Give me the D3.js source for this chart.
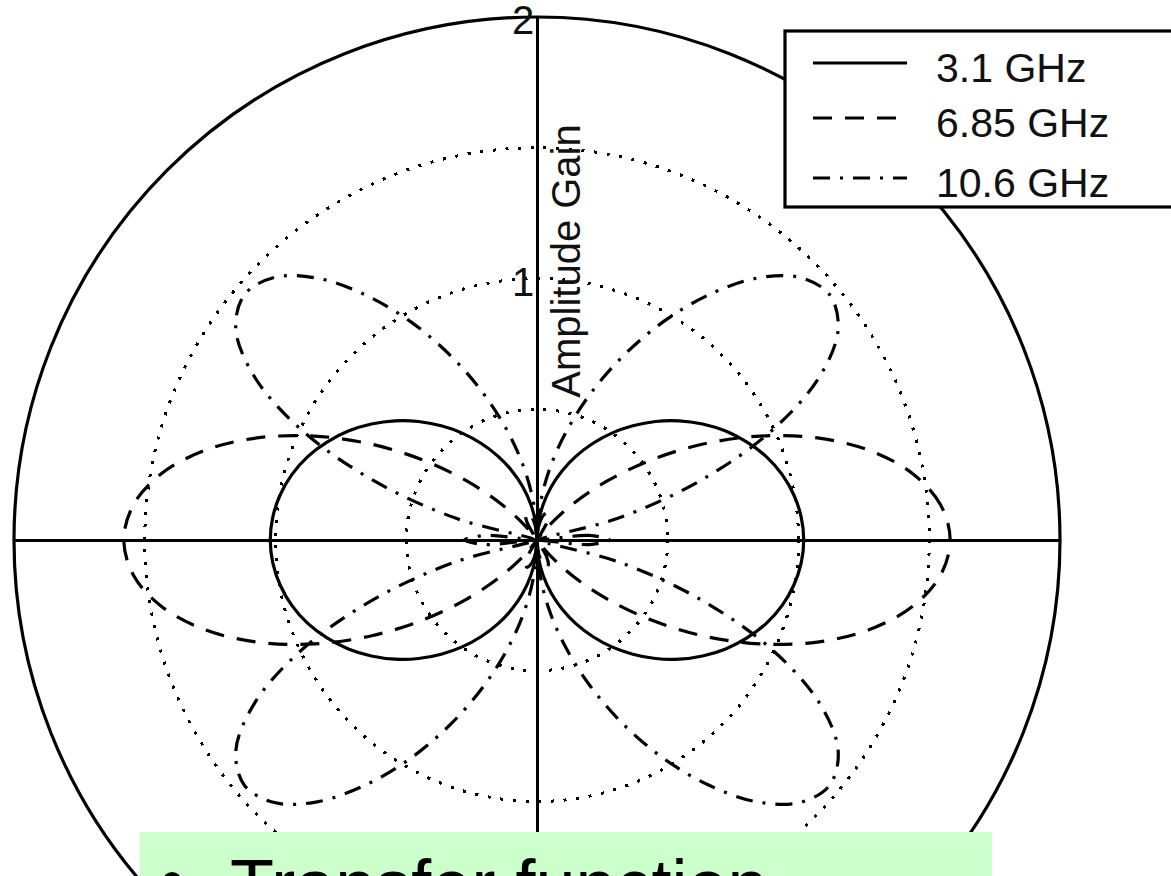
<!DOCTYPE html>
<html>
<head>
<meta charset="utf-8">
<script src="https://cdn.jsdelivr.net/npm/d3@7"></script>
<style>
  html, body { margin: 0; padding: 0; background: #fff; overflow: hidden; }
  svg { display: block; }
</style>
</head>
<body>
<svg id="chart" width="1171" height="876"></svg>
<script>
// Elevation angles (degrees from the horizontal axis) for one quadrant of the pattern.
const angleDeg = [0, 5, 10, 15, 20, 25, 30, 35, 40, 45, 50, 55, 60, 65, 70, 75, 80, 85, 90];

// Amplitude gain per frequency over that quadrant (pattern is symmetric about both axes).
const gain31  = [1.020, 1.014, 0.997, 0.970, 0.933, 0.886, 0.833, 0.773, 0.709, 0.641, 0.570, 0.499, 0.426, 0.354, 0.282, 0.211, 0.140, 0.070, 0];
const gain685 = [1.580, 1.549, 1.459, 1.319, 1.141, 0.940, 0.734, 0.534, 0.353, 0.199, 0.076, 0.014, 0.072, 0.103, 0.111, 0.099, 0.074, 0.039, 0];
const gain106 = [0.277, 0.201, 0.012, 0.320, 0.666, 0.991, 1.247, 1.406, 1.460, 1.420, 1.307, 1.144, 0.962, 0.774, 0.593, 0.426, 0.274, 0.133, 0];

const seriesNames = ["3.1 GHz", "6.85 GHz", "10.6 GHz"];
const gridRings = [0.5, 1, 1.5];
const outerRing = 2;
const tickValues = [1, 2];
const tickLabels = ["1", "2"];
const radialTitle = "Amplitude Gain";
const bulletText = "Transfer function";

const width = 1171, height = 876;
const cx = 537, cy = 540;
const font = "'Liberation Sans', Arial, Helvetica, sans-serif";

const svg = d3.select("#chart");
svg.append("rect").attr("width", width).attr("height", height).attr("fill", "#fff");

const r = d3.scaleLinear().domain([0, outerRing]).range([0, 523]);
const g = svg.append("g").attr("transform", `translate(${cx},${cy})`);

// Line styles: solid, dashed, dash-dot
const dashStyles = [null, "19,13", "17,10,3,10"];
const dotted = "3,9.7";
const lw = 3.2;

// Dotted grid rings
g.selectAll("circle.grid").data(gridRings).join("circle")
  .attr("class", "grid")
  .attr("r", d => r(d))
  .attr("fill", "none")
  .attr("stroke", "#000")
  .attr("stroke-width", 3)
  .attr("shape-rendering", "crispEdges")
  .attr("stroke-dasharray", dotted);

// Axes through the origin
g.append("line")
  .attr("x1", -r(outerRing)).attr("x2", r(outerRing)).attr("y1", 0).attr("y2", 0)
  .attr("stroke", "#000").attr("stroke-width", 3).attr("shape-rendering", "crispEdges");
g.append("line")
  .attr("x1", 0).attr("x2", 0).attr("y1", -r(outerRing)).attr("y2", r(outerRing))
  .attr("stroke", "#000").attr("stroke-width", 3).attr("shape-rendering", "crispEdges");

// Expand a quadrant to a full turn using the pattern's symmetry
function fullTurn(values) {
  const pts = [];
  const n = angleDeg.length;
  for (let i = 0; i < n; i++) pts.push([angleDeg[i], values[i]]);
  for (let i = n - 2; i >= 0; i--) pts.push([180 - angleDeg[i], values[i]]);
  for (let i = 1; i < n; i++) pts.push([180 + angleDeg[i], values[i]]);
  for (let i = n - 2; i > 0; i--) pts.push([360 - angleDeg[i], values[i]]);
  return pts;
}

const radial = d3.lineRadial()
  .angle(d => Math.PI / 2 - d[0] * Math.PI / 180)
  .radius(d => r(d[1]))
  .curve(d3.curveCatmullRomClosed.alpha(0.5));

const series = [gain31, gain685, gain106];
series.forEach((vals, i) => {
  g.append("path")
    .attr("d", radial(fullTurn(vals)))
    .attr("fill", "none")
    .attr("stroke", "#000")
    .attr("stroke-width", lw)
    .attr("stroke-linejoin", "round")
    .attr("stroke-dasharray", dashStyles[i]);
});

// Outer solid ring
g.append("circle")
  .attr("r", r(outerRing))
  .attr("fill", "none")
  .attr("stroke", "#000")
  .attr("stroke-width", lw);

// Radial tick labels along the vertical axis
g.selectAll("text.tick").data(tickValues).join("text")
  .attr("class", "tick")
  .attr("x", -14)
  .attr("y", d => -r(d) + 17)
  .attr("text-anchor", "middle")
  .attr("font-family", font)
  .attr("font-size", 40)
  .attr("fill", "#111")
  .text((d, i) => tickLabels[i]);

// Radial axis title
g.append("text")
  .attr("transform", "translate(43, -279) rotate(-90)")
  .attr("text-anchor", "middle")
  .attr("font-family", font)
  .attr("font-size", 40)
  .attr("fill", "#111")
  .text(radialTitle);

// Legend
const legend = svg.append("g").attr("transform", "translate(785,31)");
legend.append("rect")
  .attr("width", 420).attr("height", 176)
  .attr("fill", "#fff").attr("stroke", "#000").attr("stroke-width", lw);
const rowY = [32, 87, 147];
seriesNames.forEach((name, i) => {
  legend.append("line")
    .attr("x1", 28).attr("x2", 122)
    .attr("y1", rowY[i]).attr("y2", rowY[i])
    .attr("stroke", "#000").attr("stroke-width", lw)
    .attr("stroke-dasharray", dashStyles[i]);
  legend.append("text")
    .attr("x", 151).attr("y", rowY[i] + 19)
    .attr("font-family", font)
    .attr("font-size", 41)
    .attr("fill", "#111")
    .text(name);
});

// Slide caption box
const caption = svg.append("g");
caption.append("rect")
  .attr("x", 140).attr("y", 832).attr("width", 852).attr("height", 80)
  .attr("fill", "#ccffcc");
caption.append("text")
  .attr("x", 160).attr("y", 905)
  .attr("font-family", font)
  .attr("font-size", 70)
  .attr("fill", "#000")
  .text("\u2022");
caption.append("text")
  .attr("x", 230).attr("y", 910)
  .attr("font-family", font)
  .attr("font-size", 72)
  .attr("fill", "#000")
  .text(bulletText);
</script>
</body>
</html>
